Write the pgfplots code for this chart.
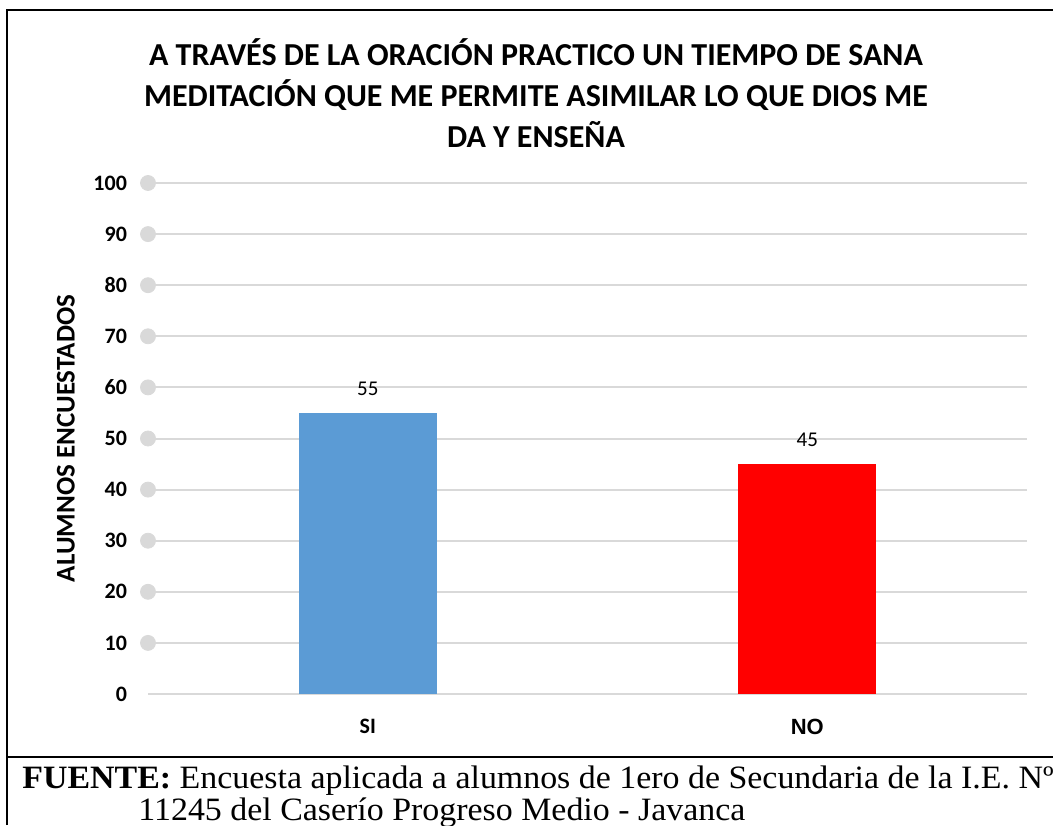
\documentclass[border=0pt]{standalone}
\usepackage{pgfplots}
\pgfplotsset{compat=1.18}
\usepackage{fontspec}
\setmainfont{Carlito}
\newfontfamily\serifsrc[FakeStretch=1.04]{Liberation Serif}
\newfontfamily\arialfont{Liberation Sans}
\definecolor{siblue}{HTML}{5B9BD5}
\definecolor{nored}{HTML}{FF0000}
\definecolor{gridgray}{HTML}{D9D9D9}

\begin{document}
\begin{tikzpicture}
% page = 1053 x 825 px, 1 px = 0.5pt
\path[use as bounding box] (0,0) rectangle (526.5pt,412.5pt);
\draw[line width=1.2pt] (3.5pt,0) -- (3.5pt,407.5pt) -- (526.5pt,407.5pt);
\draw[line width=1pt] (3.5pt,34pt) -- (526.5pt,34pt);

\node[align=center, font=\fontsize{16}{20.5}\selectfont\bfseries] at (268pt,366pt)
  {A TRAVÉS DE LA ORACIÓN PRACTICO UN TIEMPO DE SANA\\
   MEDITACIÓN QUE ME PERMITE ASIMILAR LO QUE DIOS ME\\
   DA Y ENSEÑA};

\begin{axis}[
  at={(74pt,65.5pt)}, anchor=south west,
  width=439.5pt, height=255.5pt, scale only axis,
  xmin=-0.5, xmax=1.5, ymin=0, ymax=100,
  xtick={0,1}, xticklabels={SI,{\arialfont\bfseries NO}},
  ytick={0,10,...,100},
  /pgf/number format/assume math mode=true,
  axis line style={draw=none},
  major tick length=0pt,
  ymajorgrids, grid style={gridgray, line width=1pt},
  tick label style={font=\fontsize{11}{12}\selectfont\bfseries},
  yticklabel style={xshift=-7pt},
  xticklabel style={yshift=-9pt},
  ylabel={ALUMNOS ENCUESTADOS},
  every axis y label/.style={at={(axis description cs:-0.0933,0.5)}, rotate=90, anchor=center,
    font=\fontsize{13.5}{14}\selectfont\bfseries},
  clip=false,
  nodes near coords style={font=\fontsize{10.5}{12}\selectfont, yshift=5pt},
]
\addplot[only marks, mark=*, mark size=3.75pt, color=gridgray] coordinates {
  (-0.5,10) (-0.5,20) (-0.5,30) (-0.5,40) (-0.5,50)
  (-0.5,60) (-0.5,70) (-0.5,80) (-0.5,90) (-0.5,100)
};
\addplot[ybar, bar width=69pt, bar shift=0pt, fill=siblue, draw=none, nodes near coords] coordinates {(0,55)};
\addplot[ybar, bar width=69pt, bar shift=0pt, fill=nored, draw=none, nodes near coords] coordinates {(1,45)};
\end{axis}

\node[anchor=base west, inner sep=0pt, font=\serifsrc\fontsize{16.3}{17}\selectfont] at (11pt,18.5pt)
  {\textbf{FUENTE:} Encuesta aplicada a alumnos de 1ero de Secundaria de la I.E. Nº};
\node[anchor=base west, inner sep=0pt, font=\serifsrc\fontsize{16.3}{17}\selectfont] at (69pt,2.5pt)
  {11245 del Caserío Progreso Medio - Javanca};
\end{tikzpicture}
\end{document}
